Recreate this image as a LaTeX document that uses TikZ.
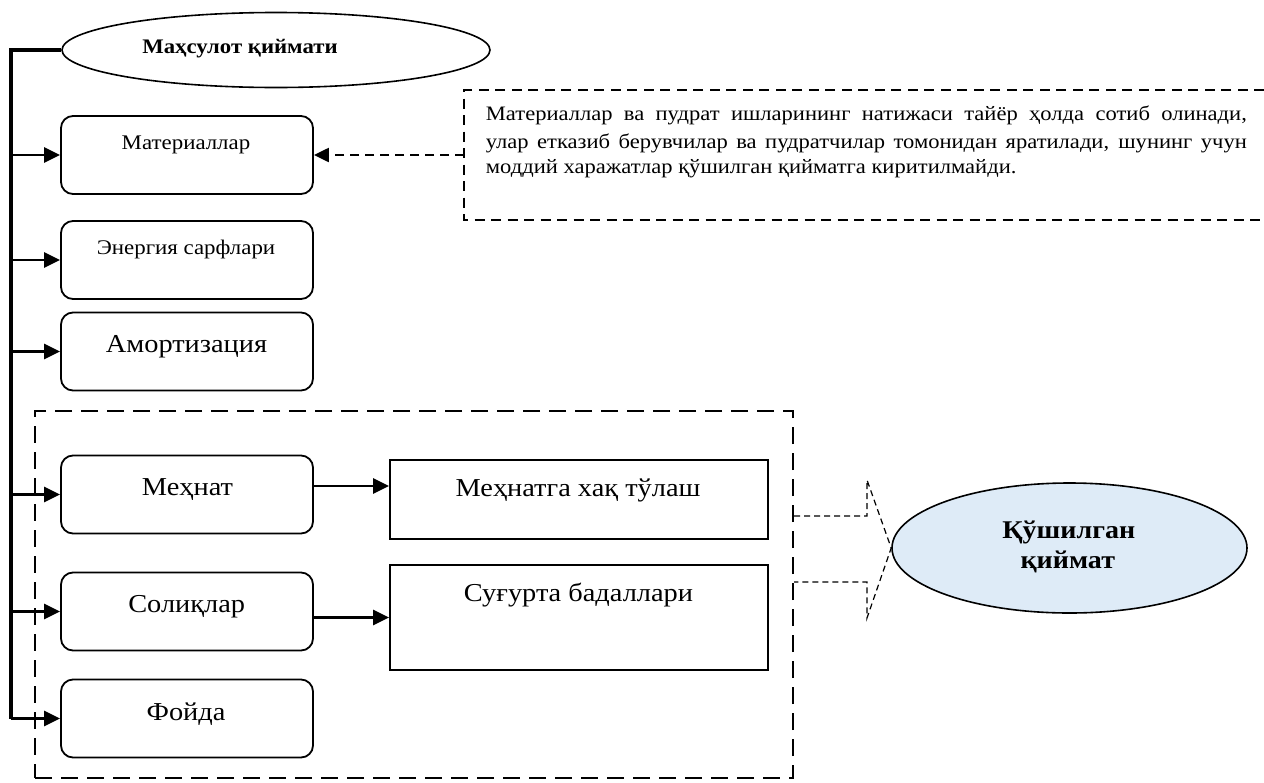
\documentclass[tikz,border=0pt]{standalone}
\usepackage{fontspec}
\setmainfont{Liberation Serif}[FakeStretch=1.1]
\usetikzlibrary{arrows.meta,shapes.geometric}
\definecolor{lblue}{RGB}{222,235,247}
\newcommand{\fs}[1]{\fontsize{#1}{#1}\selectfont}
\begin{document}
\begin{tikzpicture}[x=1pt,y=-1pt,
  rbox/.style={draw,line width=1.8pt,rounded corners=12pt,minimum width=252pt,minimum height=78pt,inner sep=0pt},
  sbox/.style={draw,line width=1.8pt,minimum width=378pt,inner sep=0pt},
  oval/.style={draw,ellipse,line width=1.6pt,inner sep=0pt},
  arr/.style={line width=2.4pt,-{Triangle[length=16pt,width=15pt]}},
  dasharr/.style={line width=2.2pt,dash pattern=on 9pt off 6pt,-{Triangle[length=15pt,width=14pt]}},
  tbox/.style={line width=2.2pt,dash pattern=on 10pt off 6.5pt},
  grpbox/.style={draw,line width=2pt,dash pattern=on 17pt off 9pt,inner sep=0pt},
  blockarr/.style={line width=1.2pt,dash pattern=on 6pt off 4pt},
  txt/.style={inner sep=0pt,anchor=base},
  small/.style={font=\fs{20.8}},
  big/.style={font=\fs{25.8}},
  para/.style={inner sep=0pt,anchor=base west,font=\fs{20.5}}
]
\useasboundingbox (0,0) rectangle (1264,782);

% top ellipse
\node[oval,minimum width=428pt,minimum height=75pt] (prod) at (276,50) {};
\node[txt,font=\bfseries\fs{20.7}] (prodT) at (240,53) {Маҳсулот қиймати};

% group box
\node[grpbox,minimum width=758pt,minimum height=367pt] (grp) at (414,594.5) {};

% rounded boxes
\node[rbox] (mat) at (187,155) {};
\node[txt,small] (matT) at (186,149) {Материаллар};
\node[rbox] (en) at (187,260) {};
\node[txt,small] (enT) at (186,254) {Энергия сарфлари};
\node[rbox] (am) at (187,351.5) {};
\node[txt,big] (amT) at (186.5,352) {Амортизация};
\node[rbox] (meh) at (187,494.5) {};
\node[txt,big] (mehT) at (187.5,495) {Меҳнат};
\node[rbox] (sol) at (187,611.5) {};
\node[txt,big] (solT) at (186.7,612) {Солиқлар};
\node[rbox] (foy) at (187,718.5) {};
\node[txt,big] (foyT) at (186,720) {Фойда};

% rectangles
\node[sbox,minimum height=79pt] (meht) at (579,499.5) {};
\node[txt,big] (mehtT) at (578,496.7) {Меҳнатга хақ тўлаш};
\node[sbox,minimum height=105pt] (suq) at (579,617.5) {};
\node[txt,big] (suqT) at (578.5,601.7) {Суғурта бадаллари};

% trunk
\coordinate (trunkTop) at (11,50);
\coordinate (trunkBot) at (11,718.5);
\draw[line width=3.3pt] (prod.west) -- (trunkTop) -- (trunkBot);
\foreach \b in {mat,en,am,meh,sol,foy}{
  \draw[arr] (trunkTop |- \b.west) -- (\b.west);
}
\draw[arr] ([yshift=8.5pt]meh.east) -- ([yshift=13.5pt]meht.west);
\draw[arr] ([yshift=-6pt]sol.east) -- (suq.west);

% result ellipse
\node[oval,fill=lblue,minimum width=355pt,minimum height=130pt] (add) at (1069.5,548) {};
\node[txt,font=\bfseries\fs{25.5}] (addT1) at (1068.8,538) {Қўшилган};
\node[txt,font=\bfseries\fs{25.5}] (addT2) at (1067.8,568.3) {қиймат};

% block arrow (dashed)
\coordinate (b1) at (867,516);
\coordinate (b2) at (867,480);
\coordinate (b3) at (867,618);
\coordinate (b4) at (867,582);
\draw[blockarr] (grp.east |- b1) -- (b1) -- (b2) -- (add.west) -- (b3) -- (b4) -- (grp.east |- b4);

% text box
\coordinate (tbTL) at (464,90);
\coordinate (tbBL) at (464,220);
\coordinate (tbTR) at (1264,90);
\coordinate (tbBR) at (1264,220);
\draw[tbox] (tbTR) -- (tbTL) -- (tbBL) -- (tbBR);
\node[para] (l1) at (485.7,120.7) {\makebox[761pt][s]{Материаллар ва пудрат ишларининг натижаси тайёр ҳолда сотиб олинади,}};
\node[para] (l2) at (485.7,148.3) {\makebox[761pt][s]{улар етказиб берувчилар ва пудратчилар томонидан яратилади, шунинг учун}};
\node[para] (l3) at (485.7,173.3) {моддий харажатлар қўшилган қийматга киритилмайди.};
\draw[dasharr] (tbTL |- mat.east) -- (mat.east);
\end{tikzpicture}
\end{document}
